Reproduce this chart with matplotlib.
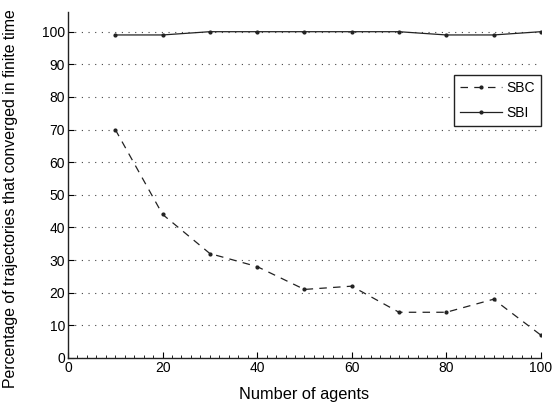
import numpy as np
import matplotlib.pyplot as plt
from matplotlib.ticker import MultipleLocator

plt.rcParams['font.family'] = ['Liberation Sans', 'DejaVu Sans']

agents = [10, 20, 30, 40, 50, 60, 70, 80, 90, 100]
sbc = [70, 44, 32, 28, 21, 22, 14, 14, 18, 7]
sbi = [99, 99, 100, 100, 100, 100, 100, 99, 99, 100]

fig = plt.figure(figsize=(5.53, 4.04), dpi=100)
ax = fig.add_axes([0.123, 0.114, 0.855, 0.856])

ax.plot(agents, sbc, color='#222222', linestyle=(0, (6, 5)), linewidth=0.9,
        marker='.', markersize=4, label='SBC')
ax.plot(agents, sbi, color='#222222', linestyle='-', linewidth=0.9,
        marker='.', markersize=4, label='SBI')

ax.set_xlim(0, 100)
ax.set_ylim(0, 106)
ax.set_xticks(np.arange(0, 101, 20))
ax.set_yticks(np.arange(0, 101, 10))
ax.xaxis.set_minor_locator(MultipleLocator(2))
ax.tick_params(direction='in', length=4, width=0.8, labelsize=10, pad=2)
ax.tick_params(which='minor', direction='in', length=2, width=0.6)
ax.yaxis.grid(True, linestyle=(0, (1, 5)), color='#444444', linewidth=0.8)
ax.set_axisbelow(True)

for s in ['top', 'right']:
    ax.spines[s].set_visible(False)
for s in ['left', 'bottom']:
    ax.spines[s].set_linewidth(1.0)
    ax.spines[s].set_color('#222222')

ax.set_xlabel('Number of agents', fontsize=11.8, labelpad=9)
ax.set_ylabel('Percentage of trajectories that converged in finite time',
              fontsize=11.4)
ax.yaxis.set_label_coords(-0.106, 0.46)

leg = ax.legend(loc='upper right', bbox_to_anchor=(1.0, 0.818), borderaxespad=0,
                fontsize=10, fancybox=False, edgecolor='#222222', framealpha=1,
                handlelength=3.0, borderpad=0.45, labelspacing=0.75, handletextpad=0.3)
leg.get_frame().set_linewidth(1.0)

fig.savefig('out.png', dpi=100)
